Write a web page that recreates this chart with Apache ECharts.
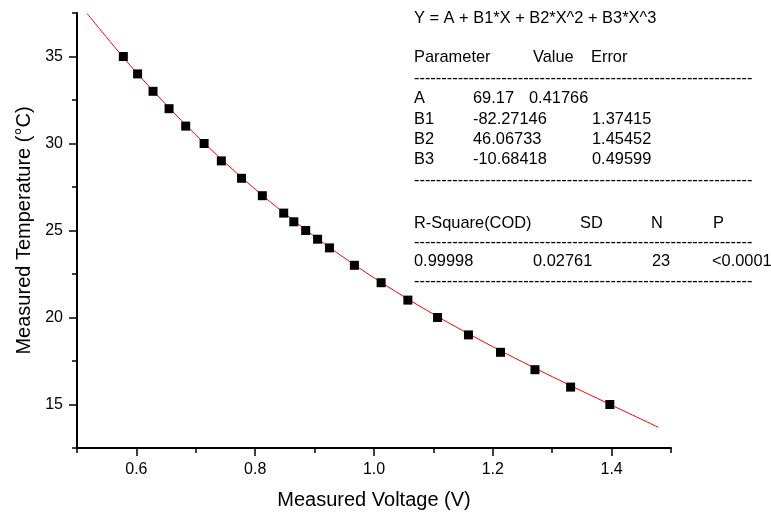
<!DOCTYPE html>
<html>
<head>
<meta charset="utf-8">
<script src="https://cdn.jsdelivr.net/npm/echarts@6/dist/echarts.min.js"></script>
<style>
  html, body { margin: 0; padding: 0; background: #fff; }
  #chart { width: 771px; height: 518px; }
</style>
</head>
<body>
<div id="chart"></div>
<script>
// measured points
const voltage = [0.578, 0.602, 0.628, 0.655, 0.683, 0.714, 0.743, 0.777, 0.812, 0.848, 0.865, 0.885,
  0.905, 0.925, 0.967, 1.012, 1.057, 1.107, 1.159, 1.213, 1.271, 1.331, 1.397]
const temperature = [35, 34, 33, 32, 31, 30, 29, 28, 27, 26, 25.5, 25, 24.5, 24, 23, 22, 21, 20, 19, 18, 17, 16, 15]

// fitted curve
const fitVoltage = [0.517, 0.6, 0.7, 0.8, 0.9, 1.0, 1.1, 1.2, 1.3, 1.4, 1.479]
const fitTemperature = [37.47, 34.08, 30.49, 27.37, 24.65, 22.28, 20.19, 18.32, 16.60, 14.96, 13.69]

// axis ticks
const xMajorTicks = [0.6, 0.8, 1.0, 1.2, 1.4]
const xMinorTicks = [0.5, 0.7, 0.9, 1.1, 1.3, 1.5]
const yMajorTicks = [15, 20, 25, 30, 35]
const yMinorTicks = [12.5, 17.5, 22.5, 27.5, 32.5, 37.5]

// fit report text
const equation = 'Y = A + B1*X + B2*X^2 + B3*X^3'
const paramHeader = ['Parameter', 'Value', 'Error']
const paramNames = ['A', 'B1', 'B2', 'B3']
const paramValues = ['69.17', '-82.27146', '46.06733', '-10.68418']
const paramErrors = ['0.41766', '1.37415', '1.45452', '0.49599']
const statHeader = ['R-Square(COD)', 'SD', 'N', 'P']
const statValues = ['0.99998', '0.02761', '23', '<0.0001']

const FONT = '"Liberation Sans", Arial, sans-serif'
const dashes = '-'.repeat(62)

const txt = (text, x, y) => ({
  type: 'text', x, y, silent: true,
  style: { text, fontFamily: FONT, fontSize: 16.4, fill: '#000', verticalAlign: 'middle' }
})

const report = [txt(equation, 414, 18)]
const headX = [414, 533, 591]
paramHeader.forEach((t, i) => report.push(txt(t, headX[i], 57.5)))
report.push(txt(dashes, 414, 78))
const rowY = [98.8, 119.2, 139.2, 159.5]
paramNames.forEach((n, i) => {
  report.push(txt(n, 414, rowY[i]))
  report.push(txt(paramValues[i], 473, rowY[i]))
  // the first row's error sits closer in the original report
  report.push(txt(paramErrors[i], i === 0 ? 529 : 592, rowY[i]))
})
report.push(txt(dashes, 414, 180))
const statHeadX = [414, 580, 651, 713]
statHeader.forEach((t, i) => report.push(txt(t, statHeadX[i], 223.5)))
report.push(txt(dashes, 414, 242))
const statX = [414, 533, 652, 712]
statValues.forEach((t, i) => report.push(txt(t, statX[i], 261)))
report.push(txt(dashes, 414, 281))

const axisLine = { show: true, lineStyle: { color: '#000', width: 2 } }
const labelStyle = { color: '#000', fontFamily: FONT, fontSize: 16 }
const nameStyle = { color: '#000', fontFamily: FONT, fontSize: 20 }

const chart = echarts.init(document.getElementById('chart'))
chart.setOption({
  animation: false,
  grid: { left: 77, right: 100, top: 13, bottom: 70 },
  xAxis: [
    {
      type: 'value', min: 0.5, max: 1.5, position: 'bottom',
      name: 'Measured Voltage (V)', nameLocation: 'middle', nameGap: 42, nameTextStyle: nameStyle,
      axisLine,
      axisTick: { show: true, length: 8, customValues: xMajorTicks, lineStyle: { color: '#000', width: 1.5 } },
      axisLabel: { ...labelStyle, margin: 14, customValues: xMajorTicks, formatter: v => v.toFixed(1) },
      splitLine: { show: false }
    },
    {
      type: 'value', min: 0.5, max: 1.5, position: 'bottom',
      axisLine: { show: false },
      axisTick: { show: true, length: 5, customValues: xMinorTicks, lineStyle: { color: '#000', width: 1.5 } },
      axisLabel: { show: false },
      splitLine: { show: false }
    }
  ],
  yAxis: [
    {
      type: 'value', min: 12.5, max: 37.5, position: 'left',
      name: 'Measured Temperature (°C)', nameLocation: 'middle', nameGap: 43, nameTextStyle: nameStyle,
      axisLine,
      axisTick: { show: true, length: 8, customValues: yMajorTicks, lineStyle: { color: '#000', width: 1.5 } },
      axisLabel: { ...labelStyle, margin: 14, customValues: yMajorTicks },
      splitLine: { show: false }
    },
    {
      type: 'value', min: 12.5, max: 37.5, position: 'left',
      axisLine: { show: false },
      axisTick: { show: true, length: 5, customValues: yMinorTicks, lineStyle: { color: '#000', width: 1.5 } },
      axisLabel: { show: false },
      splitLine: { show: false }
    }
  ],
  series: [
    {
      name: 'fit',
      type: 'line',
      data: fitVoltage.map((v, i) => [v, fitTemperature[i]]),
      smooth: 0.3,
      showSymbol: false,
      lineStyle: { color: '#ff0000', width: 1 },
      z: 2
    },
    {
      name: 'data',
      type: 'scatter',
      data: voltage.map((v, i) => [v, temperature[i]]),
      symbol: 'rect',
      symbolSize: 9,
      itemStyle: { color: '#000', opacity: 1 },
      z: 3
    }
  ],
  graphic: report
})
</script>
</body>
</html>
